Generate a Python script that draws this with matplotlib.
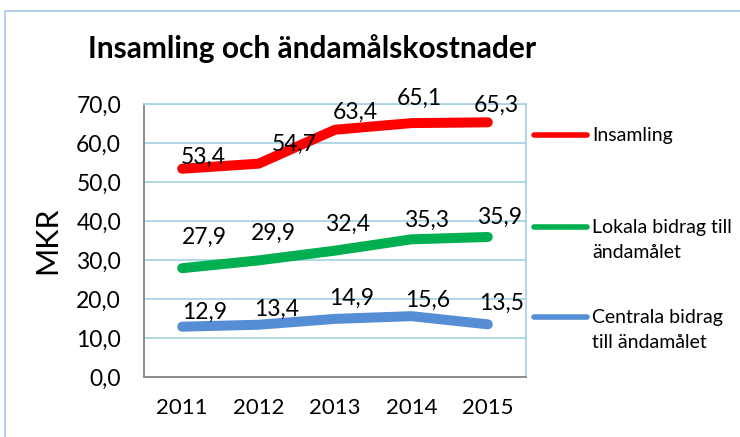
import matplotlib
matplotlib.use('Agg')
import matplotlib.pyplot as plt
from matplotlib.lines import Line2D
from matplotlib.patches import Rectangle

plt.rcParams['font.family'] = ['Lato', 'DejaVu Sans']

years = ['2011', '2012', '2013', '2014', '2015']
insamling = [53.4, 54.7, 63.4, 65.1, 65.3]
lokala = [27.9, 29.9, 32.4, 35.3, 35.9]
centrala = [12.9, 13.4, 14.9, 15.6, 13.5]
series_names = ['Insamling', 'Lokala bidrag till\nändamålet', 'Centrala bidrag\ntill ändamålet']
yticks = [0, 10, 20, 30, 40, 50, 60, 70]

colors = ['#FF0000', '#00B050', '#558ED5']
# hand-moved data labels: offset in pixels (right, up) from each point
label_offsets = [
    [(21, 11), (36, 19), (20, 17), (8, 25), (9, 17)],
    [(22, 31), (15, 27), (13, 26), (15, 19), (12, 20)],
    [(22, 14), (18, 15), (17, 21), (16, 16), (14, 21)],
]
grid_col = '#A8D4E4'
W, H = 740, 437

fig = plt.figure(figsize=(7.4, 4.37), dpi=100)
ax = fig.add_axes([144 / W, 1 - 377 / H, 382 / W, 273 / H])

x = list(range(len(years)))
for vals, col, offs in zip([insamling, lokala, centrala], colors, label_offsets):
    ax.plot(x, vals, color=col, lw=7.2, solid_capstyle='round', solid_joinstyle='round', zorder=3)
    for xi, v, (dx, dy) in zip(x, vals, offs):
        ax.annotate(f'{v:.1f}'.replace('.', ','), (xi, v), xytext=(dx * 0.72, dy * 0.72),
                    textcoords='offset points', ha='center', va='center', fontsize=16.5, zorder=4)

ax.set_xlim(-0.5, 4.5)
ax.set_ylim(0, 70)
ax.set_xticks(x)
ax.set_xticklabels(years, fontsize=16)
ax.set_yticks(yticks)
ax.set_yticklabels([f'{t:.1f}'.replace('.', ',') for t in yticks], fontsize=16.5)
ax.tick_params(length=0)
ax.tick_params(axis='y', pad=16.5)
ax.tick_params(axis='x', pad=15)
ax.grid(axis='y', color=grid_col, lw=1.3)
ax.set_axisbelow(True)
for s in ['left', 'bottom']:
    ax.spines[s].set_color('#8C8C8C')
    ax.spines[s].set_linewidth(1.4)
for s in ['right', 'top']:
    ax.spines[s].set_color(grid_col)
    ax.spines[s].set_linewidth(1.3)
ax.set_ylabel('MKR', fontsize=22, labelpad=11)

fig.text(88 / W, 1 - 58 / H, 'Insamling och ändamålskostnader', fontsize=21.5, fontweight='bold',
         ha='left', va='baseline')

# legend drawn by hand to match layout
leg_y = [135, 227, 317]
for name, col, yy in zip(series_names, colors, leg_y):
    fig.add_artist(Line2D([534 / W, 587 / W], [1 - yy / H] * 2, color=col, lw=4,
                          solid_capstyle='round', transform=fig.transFigure))
    for i, line in enumerate(name.split('\n')):
        fig.text(592 / W, 1 - (yy + 1 + 24 * i) / H, line, fontsize=14, ha='left', va='center')

fig.add_artist(Rectangle((5 / W, -0.01), 1.0, 1 - 11 / H + 0.01, transform=fig.transFigure,
                         fill=False, edgecolor='#A9C4EB', lw=1.2))

plt.savefig('out.png', dpi=100)
